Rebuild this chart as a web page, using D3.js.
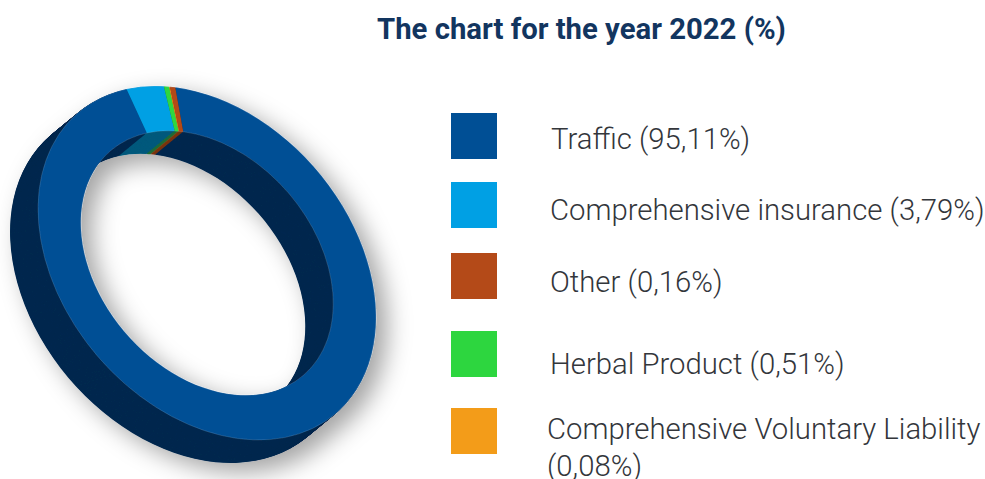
<!DOCTYPE html>
<html>
<head>
<meta charset="utf-8">
<script src="https://cdn.jsdelivr.net/npm/d3@7"></script>
<style>
    html, body { margin: 0; padding: 0; background: #fff; }
    svg { display: block; }
    .chart-title { font-family: Roboto, sans-serif; font-weight: 700; font-size: 29.3px; fill: #12355f; }
    .legend-label { font-family: Roboto, sans-serif; font-weight: 300; font-size: 29.3px; fill: #33363b; }
</style>
</head>
<body>
<div id="chart"></div>
<script>
const titleText = "The chart for the year 2022 (%)";

// legend order, as in the picture
const categories = ["Traffic", "Comprehensive insurance", "Other", "Herbal Product", "Comprehensive Voluntary Liability"];
const shares = [95.11, 3.79, 0.16, 0.51, 0.08];
const topColors = ["#004f95", "#00a0e4", "#b44a18", "#2dd63f", "#f39c19"];
const wallColors = ["#02294f", "#005a7c", "#7a3312", "#1f6b3a", "#8a5a14"];

// slices clockwise round the ring. The printed shares only add up to 99.65,
// the brown slice in the picture takes up the rest
const ringOrder = ["Traffic", "Comprehensive insurance", "Herbal Product", "Comprehensive Voluntary Liability", "Other"];
const ringShares = [95.11, 3.79, 0.51, 0.08, 0.51];

const width = 985;
const height = 479;

// ring is a flat donut, squashed and turned, then pushed back along (-28, 23)
const ring = { cx: 207, cy: 263, outer: 198, inner: 148, squash: 0.726, turn: 49.3, startDeg: -51 };
const depth = { dx: -28, dy: 23, steps: 60 };

// legend rows sit unevenly in the original
const legendLayout = {
    swatchX: 451,
    swatchSize: 46,
    swatchY: [113, 182, 253, 331, 408],
    textX: [551, 550, 550, 550, 547],
    textY: [149, 220, 292, 374, 439]
};

const svg = d3.select("#chart").append("svg")
    .attr("width", width)
    .attr("height", height);

const defs = svg.append("defs");
const shadow = defs.append("filter")
    .attr("id", "ring-shadow")
    .attr("x", "-20%").attr("y", "-20%")
    .attr("width", "140%").attr("height", "140%");
shadow.append("feDropShadow")
    .attr("dx", 11)
    .attr("dy", 9)
    .attr("stdDeviation", 12)
    .attr("flood-color", "#000")
    .attr("flood-opacity", 0.36);

const topScale = d3.scaleOrdinal().domain(categories).range(topColors);
const wallScale = d3.scaleOrdinal().domain(categories).range(wallColors);

const rows = categories.map((name, i) => ({ name, share: shares[i] }));
const ringRows = ringOrder.map((name, i) => ({ name, share: ringShares[i] }));

const startAngle = ring.startDeg * Math.PI / 180;
const pie = d3.pie()
    .value(d => d.share)
    .sort(null)
    .startAngle(startAngle)
    .endAngle(startAngle + 2 * Math.PI);

const arc = d3.arc()
    .innerRadius(ring.inner)
    .outerRadius(ring.outer);

const slices = pie(ringRows);

const ringGroup = svg.append("g").attr("filter", "url(#ring-shadow)");

function ringTransform(t) {
    const x = ring.cx + depth.dx * t;
    const y = ring.cy + depth.dy * t;
    return `translate(${x},${y}) rotate(${ring.turn}) scale(1,${ring.squash})`;
}

// wall: stack of dark copies, painted from the back to the front
const layers = d3.range(depth.steps, 0, -1).map(k => k / depth.steps);

ringGroup.selectAll(".wall-layer")
    .data(layers)
    .enter()
    .append("g")
    .attr("class", "wall-layer")
    .attr("transform", d => ringTransform(d))
    .selectAll("path")
    .data(slices)
    .enter()
    .append("path")
    .attr("d", arc)
    .attr("fill", d => wallScale(d.data.name));

// top face
const topFace = ringGroup.append("g")
    .attr("transform", ringTransform(0));

topFace.selectAll("path")
    .data(slices)
    .enter()
    .append("path")
    .attr("d", arc)
    .attr("fill", d => topScale(d.data.name));

// thin pale rim round the top face
topFace.append("path")
    .attr("d", arc({ startAngle: 0, endAngle: 2 * Math.PI }))
    .attr("fill", "none")
    .attr("stroke", "#b9cfe4")
    .attr("stroke-opacity", 0.3)
    .attr("stroke-width", 0.6)
    .attr("vector-effect", "non-scaling-stroke");

svg.append("text")
    .attr("class", "chart-title")
    .attr("x", 377)
    .attr("y", 39)
    .text(titleText);

const legend = svg.append("g");

legend.selectAll("rect")
    .data(rows)
    .enter()
    .append("rect")
    .attr("x", legendLayout.swatchX)
    .attr("y", (d, i) => legendLayout.swatchY[i])
    .attr("width", legendLayout.swatchSize)
    .attr("height", legendLayout.swatchSize)
    .attr("fill", d => topScale(d.name));

function shareLabel(d) {
    return `(${d.share.toFixed(2).replace(".", ",")}%)`;
}

legend.selectAll("text")
    .data(rows)
    .enter()
    .append("text")
    .attr("class", "legend-label")
    .attr("x", (d, i) => legendLayout.textX[i])
    .attr("y", (d, i) => legendLayout.textY[i])
    .each(function(d, i) {
        const label = d3.select(this);
        // long name pushes the share onto a second line
        if (d.name.length > 30) {
            label.append("tspan").text(d.name);
            label.append("tspan")
                .attr("x", legendLayout.textX[i])
                .attr("dy", 37)
                .text(shareLabel(d));
        } else {
            label.text(`${d.name} ${shareLabel(d)}`);
        }
    });
</script>
</body>
</html>
